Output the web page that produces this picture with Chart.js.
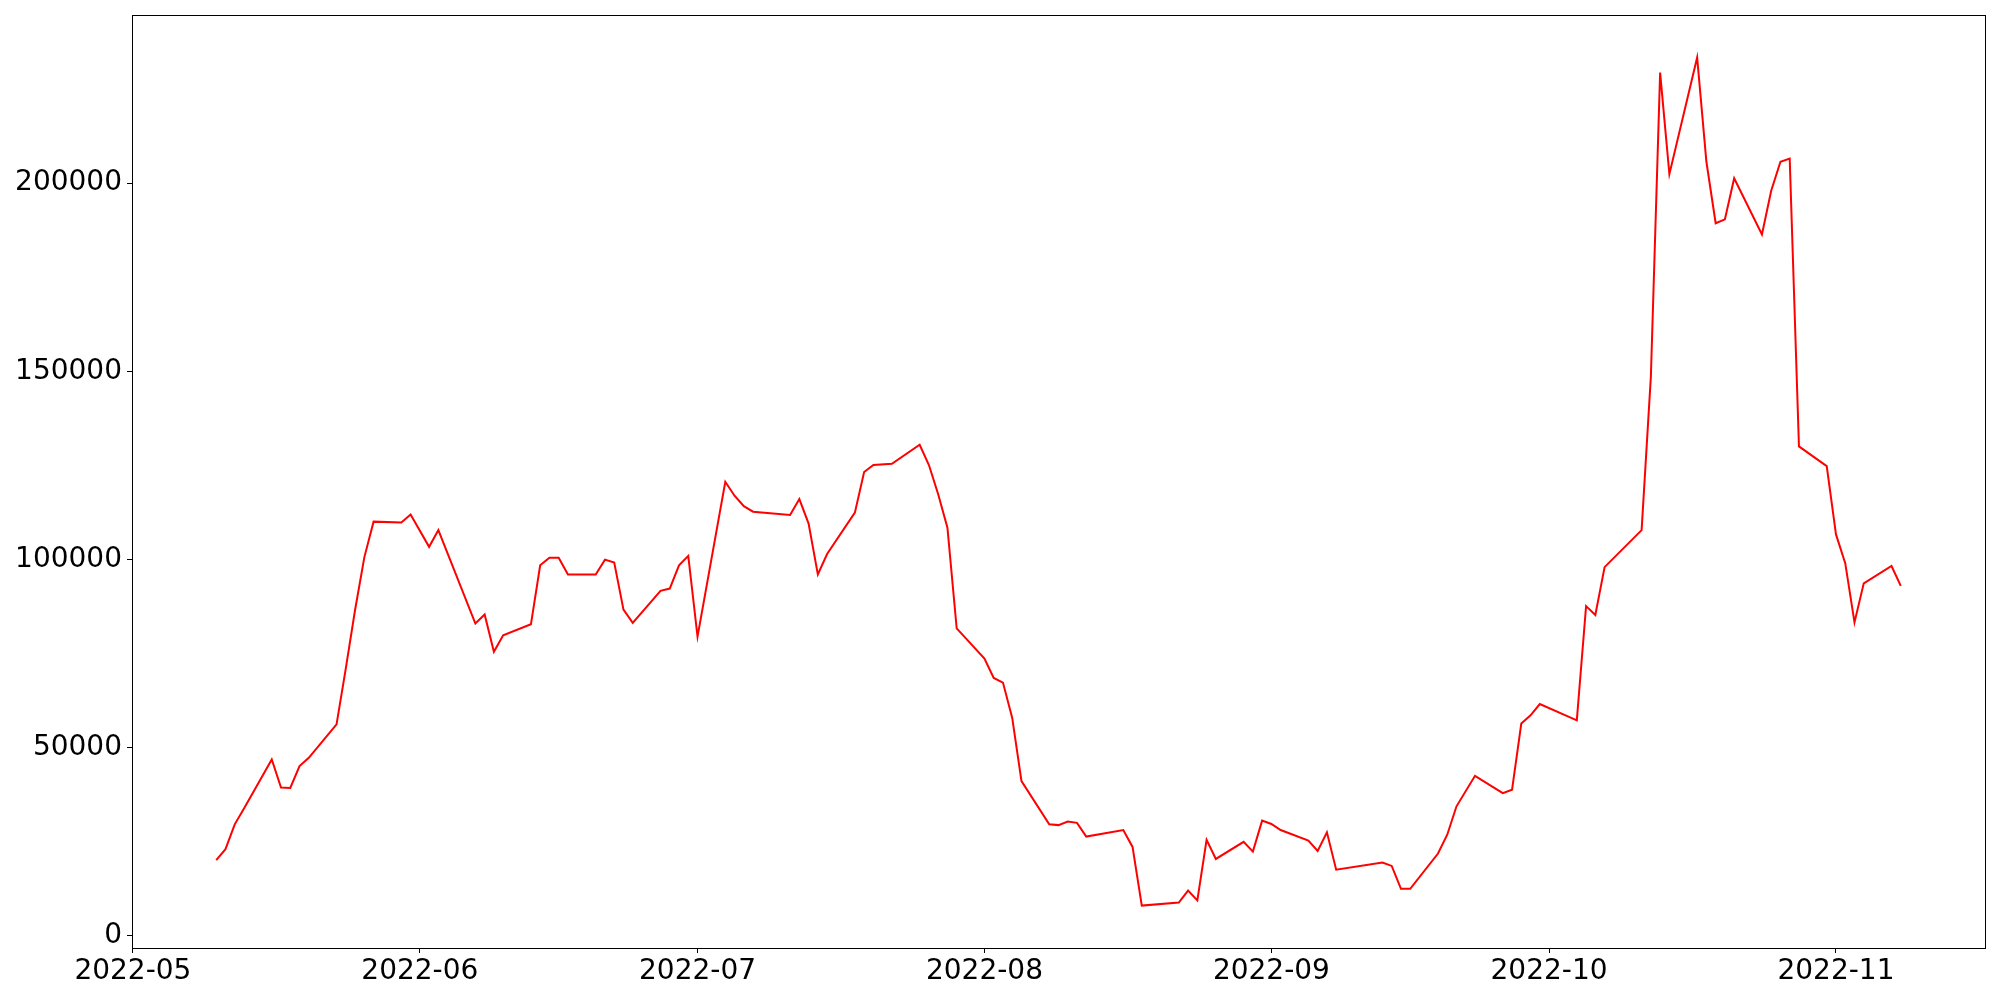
<!DOCTYPE html>
<html>
<head>
<meta charset="utf-8">
<title>Serie 2022</title>
<script src="https://cdn.jsdelivr.net/npm/chart.js@4.4.0/dist/chart.umd.min.js"></script>
<style>
  body { margin: 0; background: #fff; }
  #wrap { width: 2000px; height: 1000px; }
</style>
</head>
<body>
<div id="wrap"><canvas id="plot1"></canvas></div>
<script>
// fechas (dias habiles)
let fechas = [
  '2022-05-10', '2022-05-11', '2022-05-12', '2022-05-13', '2022-05-16', '2022-05-17', '2022-05-18', '2022-05-19', '2022-05-20',
  '2022-05-23', '2022-05-24', '2022-05-25', '2022-05-26', '2022-05-27', '2022-05-30', '2022-05-31', '2022-06-02', '2022-06-03',
  '2022-06-07', '2022-06-08', '2022-06-09', '2022-06-10', '2022-06-13', '2022-06-14', '2022-06-15', '2022-06-16', '2022-06-17',
  '2022-06-20', '2022-06-21', '2022-06-22', '2022-06-23', '2022-06-24', '2022-06-27', '2022-06-28', '2022-06-29', '2022-06-30',
  '2022-07-01', '2022-07-04', '2022-07-05', '2022-07-06', '2022-07-07', '2022-07-11', '2022-07-12', '2022-07-13', '2022-07-14',
  '2022-07-15', '2022-07-18', '2022-07-19', '2022-07-20', '2022-07-22', '2022-07-25', '2022-07-26', '2022-07-27', '2022-07-28',
  '2022-07-29', '2022-08-01', '2022-08-02', '2022-08-03', '2022-08-04', '2022-08-05', '2022-08-08', '2022-08-09', '2022-08-10',
  '2022-08-11', '2022-08-12', '2022-08-16', '2022-08-17', '2022-08-18', '2022-08-22', '2022-08-23', '2022-08-24', '2022-08-25',
  '2022-08-26', '2022-08-29', '2022-08-30', '2022-08-31', '2022-09-01', '2022-09-02', '2022-09-05', '2022-09-06', '2022-09-07',
  '2022-09-08', '2022-09-13', '2022-09-14', '2022-09-15', '2022-09-16', '2022-09-19', '2022-09-20', '2022-09-21', '2022-09-23',
  '2022-09-26', '2022-09-27', '2022-09-28', '2022-09-29', '2022-09-30', '2022-10-04', '2022-10-05', '2022-10-06', '2022-10-07',
  '2022-10-11', '2022-10-12', '2022-10-13', '2022-10-14', '2022-10-17', '2022-10-18', '2022-10-19', '2022-10-20', '2022-10-21',
  '2022-10-24', '2022-10-25', '2022-10-26', '2022-10-27', '2022-10-28', '2022-10-31', '2022-11-01', '2022-11-02', '2022-11-03',
  '2022-11-04', '2022-11-07', '2022-11-08'
];

let valores = [
  20000, 22900, 29500, 33700, 46750, 39300, 39200, 45000, 47200,
  56100, 71000, 86500, 100500, 110000, 109800, 111900, 103300, 107750,
  82900, 85300, 75400, 79800, 82700, 98400, 100400, 100400, 95950,
  95950, 99900, 99100, 86600, 83100, 91600, 92200, 98400, 100900,
  79400, 120600, 116900, 114100, 112650, 111750, 116000, 109500, 95950,
  101400, 112400, 123200, 125050, 125400, 130450, 125050, 117300, 108400,
  81600, 73600, 68450, 67200, 57800, 41000, 29500, 29300, 30250,
  29900, 26250, 28000, 23500, 7900, 8700, 11900, 9300, 25400,
  20300, 24850, 22250, 30500, 29600, 28000, 25200, 22450, 27400,
  17450, 19350, 18450, 12350, 12350, 21750, 26750, 34300, 42400,
  37800, 38700, 56300, 58500, 61500, 57150, 87550, 85200, 97900,
  107750, 148550, 229400, 202400, 233450, 205700, 189350, 190400, 201300,
  186350, 198000, 205700, 206550, 130000, 124750, 106600, 98950, 83200,
  93600, 98200, 92900
];

let etiquetasMes = ['2022-05', '2022-06', '2022-07', '2022-08', '2022-09', '2022-10', '2022-11'];
let ticksY = [0, 50000, 100000, 150000, 200000];

// dia (UTC) a partir de 'YYYY-MM' o 'YYYY-MM-DD'
let aDia = (txt) => {
  let [a, m, d] = txt.split('-').map(Number);
  return Date.UTC(a, m - 1, d || 1) / 86400000;
};

let puntos = fechas.map((f, i) => ({ x: aDia(f), y: valores[i] }));

// margenes de 5% como matplotlib
let x0 = aDia(fechas[0]), x1 = aDia(fechas[fechas.length - 1]);
let yMinDato = Math.min(...valores), yMaxDato = Math.max(...valores);
let mx = (x1 - x0) * 0.05, my = (yMaxDato - yMinDato) * 0.05;

Chart.defaults.font.family = '"DejaVu Sans", sans-serif';
Chart.defaults.color = '#000';

let marco = {
  id: 'marco',
  afterDraw: (chart) => {
    let { ctx, chartArea: a } = chart;
    ctx.save();
    ctx.strokeStyle = '#000';
    ctx.lineWidth = 1;
    ctx.strokeRect(Math.round(a.left) + 0.5, Math.round(a.top) + 0.5, Math.round(a.right - a.left), Math.round(a.bottom - a.top));
    ctx.restore();
  }
};

let config = {
  type: 'line',
  data: {
    datasets: [
      {
        data: puntos,
        borderColor: '#ff0000',
        borderWidth: 2,
        pointRadius: 0,
        tension: 0,
        fill: false
      }
    ]
  },
  options: {
    responsive: true,
    maintainAspectRatio: false,
    animation: false,
    parsing: false,
    layout: { padding: { top: 15, right: 15, left: 0, bottom: 0 } },
    plugins: { legend: { display: false }, tooltip: { enabled: false } },
    scales: {
      x: {
        type: 'linear',
        min: x0 - mx,
        max: x1 + mx,
        afterBuildTicks: (scale) => {
          scale.ticks = etiquetasMes.map(m => ({ value: aDia(m) }));
        },
        afterFit: (scale) => {
          scale.height = 52;
          scale.paddingLeft = 0;
          scale.paddingRight = 0;
        },
        ticks: {
          autoSkip: false,
          maxRotation: 0,
          padding: 2,
          font: { size: 28 },
          callback: (v) => etiquetasMes.find(m => aDia(m) === v) || ''
        },
        grid: { drawOnChartArea: false, tickLength: 5, color: '#000' },
        border: { color: '#000', width: 1 }
      },
      y: {
        type: 'linear',
        min: yMinDato - my,
        max: yMaxDato + my,
        afterBuildTicks: (scale) => {
          scale.ticks = ticksY.map(v => ({ value: v }));
        },
        afterFit: (scale) => {
          scale.width = 132;
          scale.paddingTop = 0;
          scale.paddingBottom = 0;
        },
        ticks: {
          padding: 5,
          font: { size: 28 },
          callback: (v) => String(v)
        },
        grid: { drawOnChartArea: false, tickLength: 5, color: '#000' },
        border: { color: '#000', width: 1 }
      }
    }
  },
  plugins: [marco]
};

let chart1 = new Chart(document.getElementById('plot1'), config);
</script>
</body>
</html>
